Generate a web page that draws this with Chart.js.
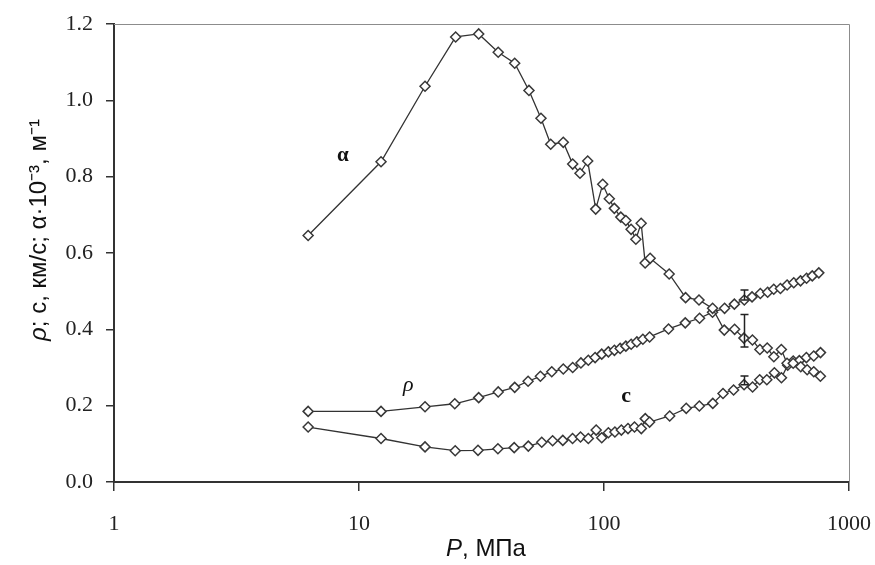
<!DOCTYPE html>
<html>
<head>
<meta charset="utf-8">
<script src="https://cdn.jsdelivr.net/npm/chart.js@4.4.1/dist/chart.umd.min.js"></script>
<style>
  html, body { margin: 0; padding: 0; background: #ffffff; }
  #c { display: block; }
</style>
</head>
<body>
<canvas id="c" width="875" height="565"></canvas>
<script>
// ---- data ----
const xTicks = [1, 10, 100, 1000];
const yTicks = [0, 0.2, 0.4, 0.6, 0.8, 1.0, 1.2];

const alphaP = [6.2, 12.3, 18.6, 24.8, 30.8, 37.0, 43.2, 49.4, 55.3, 60.6, 68.2, 74.5, 79.8, 85.8, 92.5, 98.8, 105.1, 110.2, 117.1, 122.8, 129.0, 134.9, 141.8, 147.2, 154.3, 184.5, 215.3, 244.2, 277.5, 309.7, 341.3, 372.4, 403.5, 432.8, 463.6, 493.4, 529.5, 558.5, 591.9, 635.5, 674.9, 718.2, 764.3];
const alphaV = [0.646, 0.839, 1.037, 1.166, 1.174, 1.126, 1.097, 1.026, 0.953, 0.885, 0.890, 0.833, 0.809, 0.841, 0.715, 0.780, 0.742, 0.717, 0.694, 0.685, 0.662, 0.636, 0.678, 0.574, 0.586, 0.545, 0.483, 0.477, 0.455, 0.398, 0.400, 0.377, 0.372, 0.347, 0.351, 0.328, 0.347, 0.311, 0.311, 0.302, 0.294, 0.289, 0.277];

const rhoP = [6.2, 12.3, 18.6, 24.6, 30.8, 37.0, 43.2, 49.0, 55.0, 61.2, 68.2, 74.5, 80.5, 86.3, 92.0, 97.9, 104.2, 110.3, 116.4, 122.8, 129.1, 136.2, 144.1, 153.5, 183.4, 214.6, 245.5, 277.3, 310.6, 340.5, 373.8, 402.0, 434.6, 465.6, 493.0, 525.0, 559.0, 595.0, 634.0, 671.0, 708.0, 753.0];
const rhoV = [0.185, 0.185, 0.197, 0.205, 0.221, 0.236, 0.248, 0.264, 0.277, 0.289, 0.296, 0.300, 0.312, 0.319, 0.326, 0.335, 0.341, 0.345, 0.350, 0.356, 0.361, 0.367, 0.374, 0.380, 0.401, 0.417, 0.429, 0.445, 0.455, 0.466, 0.477, 0.485, 0.494, 0.497, 0.505, 0.507, 0.516, 0.522, 0.527, 0.534, 0.540, 0.548];

const cP = [6.2, 12.3, 18.6, 24.7, 30.6, 36.9, 43.0, 49.1, 55.7, 61.7, 67.9, 74.4, 80.2, 86.3, 92.9, 97.9, 104.2, 110.8, 117.7, 125.3, 133.2, 142.0, 147.4, 153.5, 185.4, 216.6, 245.0, 278.0, 306.0, 338.0, 373.0, 404.0, 432.0, 462.0, 496.0, 530.0, 562.0, 592.0, 627.0, 670.0, 718.0, 765.0];
const cV = [0.144, 0.114, 0.092, 0.082, 0.083, 0.087, 0.090, 0.094, 0.104, 0.108, 0.109, 0.114, 0.118, 0.114, 0.136, 0.116, 0.129, 0.131, 0.136, 0.140, 0.144, 0.140, 0.166, 0.157, 0.173, 0.193, 0.199, 0.206, 0.232, 0.241, 0.255, 0.249, 0.268, 0.268, 0.286, 0.273, 0.306, 0.317, 0.318, 0.326, 0.330, 0.339];

// error bars (at one pressure, for α, ρ and c)
const errP  = [372, 372, 372];
const errLo = [0.354, 0.477, 0.255];
const errHi = [0.439, 0.503, 0.278];

// in-plot curve labels
const curveLabels = ['α', 'ρ', 'с'];
const labelP = [8.6, 15.9, 123];
const labelV = [0.855, 0.254, 0.225];

// ---- helpers ----
const toPts = (xs, ys) => xs.map((x, i) => ({ x: x, y: ys[i] }));
const LINE = '#333333';

function series(label, xs, ys) {
  return {
    label: label,
    data: toPts(xs, ys),
    showLine: true,
    borderColor: LINE,
    borderWidth: 1.3,
    tension: 0,
    pointStyle: 'rectRot',
    pointRadius: 5,
    pointBorderWidth: 1.5,
    pointBorderColor: '#383838',
    pointBackgroundColor: '#ffffff'
  };
}

const decorPlugin = {
  id: 'decor',
  afterDatasetsDraw(chart) {
    const ctx = chart.ctx;
    const xs = chart.scales.x, ys = chart.scales.y;
    ctx.save();
    ctx.strokeStyle = '#222';
    ctx.lineWidth = 1.5;
    for (let i = 0; i < errP.length; i++) {
      const px = Math.round(xs.getPixelForValue(errP[i])) + 0.5;
      const y1 = ys.getPixelForValue(errHi[i]);
      const y2 = ys.getPixelForValue(errLo[i]);
      ctx.beginPath();
      ctx.moveTo(px, y1); ctx.lineTo(px, y2);
      ctx.moveTo(px - 4, y1); ctx.lineTo(px + 4, y1);
      ctx.moveTo(px - 4, y2); ctx.lineTo(px + 4, y2);
      ctx.stroke();
    }
    ctx.restore();
  },
  afterDraw(chart) {
    const ctx = chart.ctx;
    const a = chart.chartArea;
    const xs = chart.scales.x, ys = chart.scales.y;
    ctx.save();
    // top & right frame
    ctx.strokeStyle = '#8c8c8c';
    ctx.lineWidth = 1;
    ctx.beginPath();
    ctx.moveTo(a.left, a.top + 0.5); ctx.lineTo(a.right + 0.5, a.top + 0.5);
    ctx.lineTo(a.right + 0.5, a.bottom);
    ctx.stroke();

    // curve labels
    ctx.fillStyle = '#111';
    ctx.textAlign = 'center';
    ctx.textBaseline = 'middle';
    const fonts = ['bold 21px "Liberation Serif"', 'italic 22px "Liberation Serif"', 'bold 22px "Liberation Serif"'];
    for (let i = 0; i < curveLabels.length; i++) {
      ctx.font = fonts[i];
      ctx.fillText(curveLabels[i], xs.getPixelForValue(labelP[i]), ys.getPixelForValue(labelV[i]));
    }

    // x axis title: "P, МПа"
    const fam = '"Liberation Sans", Arial, sans-serif';
    const fs = 24;
    ctx.textAlign = 'left';
    ctx.textBaseline = 'middle';
    const p1 = 'P', p2 = ', МПа';
    ctx.font = 'italic ' + fs + 'px ' + fam;
    const w1 = ctx.measureText(p1).width;
    ctx.font = fs + 'px ' + fam;
    const w2 = ctx.measureText(p2).width;
    const cx = 486;
    let sx = cx - (w1 + w2) / 2;
    const ty = 549;
    ctx.font = 'italic ' + fs + 'px ' + fam;
    ctx.fillText(p1, sx, ty);
    ctx.font = fs + 'px ' + fam;
    ctx.fillText(p2, sx + w1, ty);

    // y axis title: "ρ; с, км/с; α·10⁻³, м⁻¹"
    const q1 = 'ρ', q2 = '; с, км/с; α·10⁻³, м⁻¹';
    ctx.translate(39, 230);
    ctx.rotate(-Math.PI / 2);
    ctx.font = 'italic ' + fs + 'px ' + fam;
    const v1 = ctx.measureText(q1).width;
    ctx.font = fs + 'px ' + fam;
    const v2 = ctx.measureText(q2).width;
    let s0 = -(v1 + v2) / 2;
    ctx.font = 'italic ' + fs + 'px ' + fam;
    ctx.fillText(q1, s0, 0);
    ctx.font = fs + 'px ' + fam;
    ctx.fillText(q2, s0 + v1, 0);
    ctx.restore();
  }
};

const tickFont = { family: '"Liberation Serif", "Times New Roman", serif', size: 22 };

new Chart(document.getElementById('c'), {
  type: 'scatter',
  data: {
    datasets: [
      series('α', alphaP, alphaV),
      series('ρ', rhoP, rhoV),
      series('с', cP, cV)
    ]
  },
  options: {
    responsive: false,
    animation: false,
    devicePixelRatio: 1,
    layout: { padding: { top: 24, right: 26, left: 0, bottom: 0 } },
    plugins: { legend: { display: false }, tooltip: { enabled: false } },
    scales: {
      x: {
        type: 'logarithmic',
        position: 'bottom',
        min: 1,
        max: 1000,
        afterBuildTicks: s => { s.ticks = xTicks.map(v => ({ value: v })); },
        afterFit: s => { s.height = 83; s.paddingLeft = 0; s.paddingRight = 0; },
        ticks: {
          callback: v => String(v),
          font: tickFont,
          color: '#222',
          padding: 20,
          maxRotation: 0,
          autoSkip: false
        },
        grid: { drawOnChartArea: false, drawTicks: true, tickLength: 9, color: '#333', lineWidth: 1.5 },
        border: { color: '#333', width: 2 }
      },
      y: {
        min: 0,
        max: 1.2,
        afterBuildTicks: s => { s.ticks = yTicks.map(v => ({ value: v })); },
        afterFit: s => { s.width = 114; s.paddingTop = 0; s.paddingBottom = 0; },
        ticks: {
          callback: v => Number(v).toFixed(1),
          font: tickFont,
          color: '#222',
          padding: 13
        },
        grid: { drawOnChartArea: false, drawTicks: true, tickLength: 8, color: '#333', lineWidth: 1.5 },
        border: { color: '#333', width: 2 }
      }
    }
  },
  plugins: [decorPlugin]
});
</script>
</body>
</html>
